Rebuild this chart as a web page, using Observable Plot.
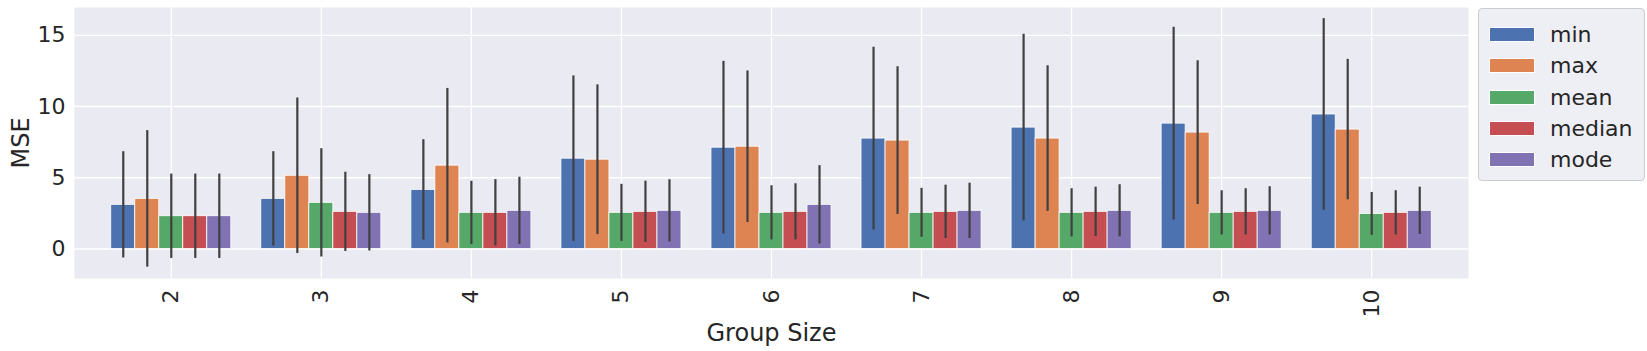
<!DOCTYPE html>
<html>
<head>
<meta charset="utf-8">
<script src="https://cdn.jsdelivr.net/npm/d3@7"></script>
<script src="https://cdn.jsdelivr.net/npm/@observablehq/plot@0.6"></script>
<style>
  body { margin: 0; background: #fff; font-family: "DejaVu Sans", sans-serif; }
  #wrap { position: relative; width: 1647px; height: 351px; }
  #wrap svg g[aria-label="x-axis label"] text,
  #wrap svg g[aria-label="y-axis label"] text { font-size: 24px; }
  #legend { position: absolute; left: 1478px; top: 8px; width: 167px; height: 173px; box-sizing: border-box;
            border: 1px solid #cccccc; border-radius: 4px; background: rgba(234,234,242,0.8);
            font-family: "DejaVu Sans", sans-serif; }
  .item { position: absolute; left: 10px; height: 31.3px; display: flex; align-items: center;
          font-size: 22px; color: #262626; white-space: nowrap; }
  .sw { width: 46px; height: 15px; margin-right: 15px; box-sizing: border-box; border: 1px solid #fff; }
</style>
</head>
<body>
<div id="wrap"></div>
<script>
// ---- data ----
const groupSizes = [2, 3, 4, 5, 6, 7, 8, 9, 10];
const seriesNames = ["min", "max", "mean", "median", "mode"];
const seriesColors = ["#4C72B0", "#DD8452", "#55A868", "#C44E52", "#8172B3"];

const minValues    = [3.10, 3.52, 4.15, 6.34, 7.11, 7.75, 8.52, 8.80, 9.44];
const minErr       = [3.73, 3.31, 3.52, 5.81, 6.06, 6.41, 6.55, 6.76, 6.73];
const maxValues    = [3.52, 5.14, 5.85, 6.27, 7.18, 7.61, 7.75, 8.17, 8.38];
const maxErr       = [4.79, 5.46, 5.42, 5.25, 5.32, 5.18, 5.11, 5.04, 4.93];
const meanValues   = [2.30, 3.24, 2.54, 2.54, 2.54, 2.54, 2.54, 2.54, 2.46];
const meanErr      = [2.96, 3.80, 2.22, 2.00, 1.90, 1.72, 1.69, 1.55, 1.51];
const medianValues = [2.30, 2.61, 2.54, 2.61, 2.61, 2.61, 2.61, 2.61, 2.54];
const medianErr    = [2.96, 2.78, 2.33, 2.15, 1.97, 1.87, 1.73, 1.62, 1.55];
const modeValues   = [2.30, 2.54, 2.68, 2.68, 3.10, 2.68, 2.68, 2.68, 2.68];
const modeErr      = [2.96, 2.68, 2.36, 2.18, 2.75, 1.94, 1.83, 1.69, 1.66];

const yTicks = [0, 5, 10, 15];

// ---- table ----
const valueSets = [minValues, maxValues, meanValues, medianValues, modeValues];
const errSets = [minErr, maxErr, meanErr, medianErr, modeErr];
const rows = [];
groupSizes.forEach((g, i) => {
  seriesNames.forEach((s, j) => {
    rows.push({group: g, series: s, index: j, value: valueSets[j][i], err: errSets[j][i]});
  });
});

// grouped-bar layout (pandas style: groups 0.8 wide, centred on the tick)
const groupWidth = 0.8;
const barW = groupWidth / seriesNames.length;
const barStart = d => d.group - groupWidth / 2 + d.index * barW;

const chart = Plot.plot({
  width: 1647,
  height: 351,
  marginLeft: 74,
  marginRight: 179,
  marginTop: 7,
  marginBottom: 73,
  style: {fontFamily: "DejaVu Sans", fontSize: "22px", color: "#262626", background: "transparent", overflow: "visible"},
  x: {domain: [1.355, 10.645], ticks: groupSizes, tickFormat: d => String(d), tickSize: 0, tickPadding: 11,
      tickRotate: -90, label: "Group Size", labelAnchor: "center", labelOffset: 62, labelArrow: false},
  y: {domain: [-2.07, 16.95], ticks: yTicks, tickSize: 0, tickPadding: 9,
      label: "MSE", labelAnchor: "center", labelOffset: 63, labelArrow: false},
  color: {domain: seriesNames, range: seriesColors},
  marks: [
    Plot.frame({fill: "#EAEAF2", stroke: "none"}),
    Plot.ruleY(yTicks, {stroke: "white", strokeWidth: 1.3}),
    Plot.ruleX(groupSizes, {stroke: "white", strokeWidth: 1.3}),
    Plot.rect(rows, {x1: barStart, x2: d => barStart(d) + barW, y1: 0, y2: "value",
                     fill: "series", stroke: "white", strokeWidth: 0.8}),
    Plot.ruleX(rows, {x: d => barStart(d) + barW / 2, y1: d => d.value - d.err, y2: d => d.value + d.err,
                      stroke: "#404040", strokeWidth: 2.2})
  ]
});

const wrap = document.getElementById("wrap");
wrap.appendChild(chart);

// legend
const legend = document.createElement("div");
legend.id = "legend";
seriesNames.forEach((s, j) => {
  const item = document.createElement("div");
  item.className = "item";
  item.style.top = (10 + j * 31.3) + "px";
  const sw = document.createElement("div");
  sw.className = "sw";
  sw.style.background = seriesColors[j];
  const label = document.createElement("span");
  label.textContent = s;
  item.appendChild(sw);
  item.appendChild(label);
  legend.appendChild(item);
});
wrap.appendChild(legend);
</script>
</body>
</html>
